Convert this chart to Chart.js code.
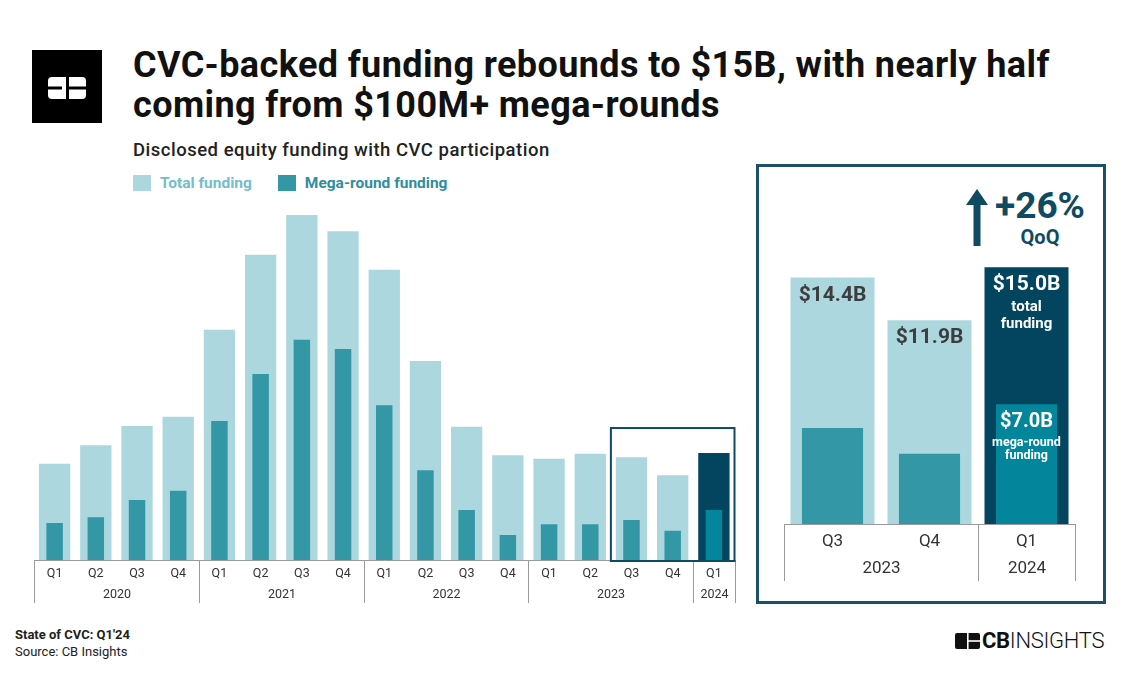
<!DOCTYPE html>
<html>
<head>
<meta charset="utf-8">
<script src="https://cdn.jsdelivr.net/npm/chart.js@4.4.1/dist/chart.umd.min.js"></script>
<style>
  body { margin:0; width:1135px; height:678px; background:#fff; position:relative; overflow:hidden; font-family:Roboto, "Noto Sans", sans-serif; }
  .abs { position:absolute; }
  #title { left:133px; top:45px; font-weight:700; font-size:36px; letter-spacing:0.4px; line-height:40px; color:#111; white-space:nowrap; }
  #sub { left:133px; top:140px; font-weight:500; font-size:18.5px; letter-spacing:0.5px; line-height:20px; color:#222; white-space:nowrap; }
  #legend { left:133px; top:175px; font-weight:700; font-size:15.5px; line-height:16px; display:flex; align-items:center; }
  #legend span.sw { display:inline-block; width:18px; height:16px; margin-right:9px; }
  #legend .item { display:flex; align-items:center; margin-right:26px; }
  #foot { left:15px; top:626px; font-size:13px; line-height:17px; color:#222; }
  #inset { left:756px; top:164px; width:344px; height:434px; border:3px solid #1b5068; }
  #qoq { left:990px; top:186px; width:100px; color:#0f4a63; font-weight:700; text-align:center; }
</style>
</head>
<body>
<svg class="abs" style="left:32px;top:50px" width="70" height="73" viewBox="0 0 70 73">
  <rect width="70" height="73" fill="#000"/>
  <rect x="16" y="27" width="38" height="22" rx="4" fill="#fff"/>
  <rect x="34" y="27" width="3" height="22" fill="#000"/>
  <rect x="37" y="36.5" width="17" height="3" fill="#000"/>
  <rect x="16" y="36.5" width="14" height="3" fill="#000"/>
</svg>
<div id="title" class="abs">CVC-backed funding rebounds to $15B, with nearly half<br>coming from $100M+ mega-rounds</div>
<div id="sub" class="abs">Disclosed equity funding with CVC participation</div>
<div id="legend" class="abs">
  <div class="item"><span class="sw" style="background:#acd7df"></span><span style="color:#74bdca">Total funding</span></div>
  <div class="item"><span class="sw" style="background:#3497a6"></span><span style="color:#2f8e9e">Mega-round funding</span></div>
</div>

<canvas id="main" class="abs" style="left:0;top:190px" width="750" height="420"></canvas>

<div id="inset" class="abs"></div>
<svg class="abs" style="left:965px;top:189px" width="24" height="58" viewBox="0 0 24 58">
  <polygon points="12,0 23,16 15.5,16 15.5,57 8.5,57 8.5,16 1,16" fill="#0f4a63"/>
</svg>
<div id="qoq" class="abs"><div style="font-size:37px;line-height:40px">+26%</div><div style="font-size:20px;line-height:22px">QoQ</div></div>
<canvas id="zoom" class="abs" style="left:760px;top:240px" width="340" height="360"></canvas>

<div id="foot" class="abs"><b>State of CVC: Q1'24</b><br>Source: CB Insights</div>
<svg class="abs" style="left:955px;top:633px" width="25" height="16" viewBox="0 0 25 16">
  <rect width="25" height="16" rx="2" fill="#111"/>
  <rect x="12" y="0" width="1.6" height="16" fill="#fff"/>
  <rect x="13" y="7.2" width="12" height="1.6" fill="#fff"/>
</svg>
<div class="abs" style="left:982px;top:628px;font-size:22px;line-height:26px;color:#111;letter-spacing:-0.3px"><b>CB</b><span style="font-weight:300">INSIGHTS</span></div>

<script>
// === DADOS ===
const quarters = ['Q1','Q2','Q3','Q4','Q1','Q2','Q3','Q4','Q1','Q2','Q3','Q4','Q1','Q2','Q3','Q4','Q1'];
const years = ['2020','2021','2022','2023','2024'];
const yearSizes = [4, 4, 4, 4, 1];
const totalFunding = [13.5, 16.1, 18.8, 20.1, 32.3, 42.8, 48.4, 46.1, 40.7, 27.9, 18.7, 14.7, 14.2, 14.9, 14.4, 11.9, 15.0];
const megaFunding  = [5.2, 6.0, 8.4, 9.7, 19.5, 26.1, 30.9, 29.6, 21.7, 12.6, 7.0, 3.5, 5.0, 5.0, 5.6, 4.1, 7.0];

// zoom (ultimos 3 trimestres)
const zoomQuarters = quarters.slice(-3);
const zoomYears = ['2023', '2024'];
const zoomYearSizes = [2, 1];
const zoomTotal = totalFunding.slice(-3);
const zoomMega = megaFunding.slice(-3);

const LIGHT = '#acd7df', MEGA = '#3497a6', NAVY = '#03445f', MEGA_HL = '#03869b';

// cores por barra: a ultima (Q1'24) em destaque
const totalColors = totalFunding.map((v, i) => i === totalFunding.length - 1 ? NAVY : LIGHT);
const megaColors = megaFunding.map((v, i) => i === megaFunding.length - 1 ? MEGA_HL : MEGA);

// === EIXO AGRUPADO (trimestres + anos) ===
const groupAxis = {
  id: 'groupAxis',
  afterDatasetsDraw(chart, args, o) {
    const { ctx, chartArea: a, scales: { x } } = chart;
    const n = chart.data.labels.length;
    const step = n > 1 ? x.getPixelForValue(1) - x.getPixelForValue(0) : a.width;
    ctx.save();
    ctx.strokeStyle = '#9a9a9a';
    ctx.lineWidth = 1;
    ctx.beginPath();
    ctx.moveTo(a.left, a.bottom + 0.5);
    ctx.lineTo(a.right, a.bottom + 0.5);
    ctx.stroke();

    ctx.fillStyle = '#333';
    ctx.textAlign = 'center';
    ctx.textBaseline = 'middle';
    ctx.font = o.font;
    chart.data.labels.forEach((q, i) => ctx.fillText(q, x.getPixelForValue(i), a.bottom + o.qY));

    let idx = 0;
    o.years.forEach((yr, g) => {
      const size = o.sizes[g];
      const left = Math.round(x.getPixelForValue(idx) - step / 2) + 0.5;
      const right = Math.round(x.getPixelForValue(idx + size - 1) + step / 2) + 0.5;
      ctx.beginPath();
      ctx.moveTo(left, a.bottom);
      ctx.lineTo(left, a.bottom + o.depth);
      if (g === o.years.length - 1) {
        ctx.moveTo(right, a.bottom);
        ctx.lineTo(right, a.bottom + o.depth);
      }
      ctx.stroke();
      ctx.fillText(yr, (left + right) / 2, a.bottom + o.yearY);
      idx += size;
    });

    // caixa de destaque
    if (o.box) {
      const bx = x.getPixelForValue(o.box.from) - step / 2;
      const ex = x.getPixelForValue(n - 1) + step / 2;
      const top = chart.scales.y.getPixelForValue(Math.max(...totalFunding.slice(o.box.from))) - 25;
      ctx.strokeStyle = '#0f4a63';
      ctx.lineWidth = 2;
      ctx.strokeRect(bx, top, ex - bx, a.bottom - top + 1);
    }
    ctx.restore();
  }
};

// === ROTULOS DO ZOOM ===
const zoomLabels = {
  id: 'zoomLabels',
  afterDatasetsDraw(chart) {
    const ctx = chart.ctx;
    const tot = chart.getDatasetMeta(1).data;
    const meg = chart.getDatasetMeta(0).data;
    ctx.save();
    ctx.textAlign = 'center';
    ctx.textBaseline = 'middle';
    tot.forEach((bar, i) => {
      const last = i === tot.length - 1;
      ctx.fillStyle = last ? '#fff' : '#3d3d3d';
      ctx.font = '700 21px Roboto';
      ctx.fillText('$' + zoomTotal[i].toFixed(1) + 'B', bar.x, bar.y + 18);
      if (last) {
        ctx.font = '700 15px Roboto';
        ctx.fillText('total', bar.x, bar.y + 40);
        ctx.fillText('funding', bar.x, bar.y + 57);
        const m = meg[i];
        ctx.font = '700 20px Roboto';
        ctx.fillText('$' + zoomMega[i].toFixed(1) + 'B', m.x, m.y + 18);
        ctx.font = '700 12.5px Roboto';
        ctx.fillText('mega-round', m.x, m.y + 39);
        ctx.fillText('funding', m.x, m.y + 52);
      }
    });
    ctx.restore();
  }
};

function barChart(el, labels, total, mega, tColors, mColors, yMax, pad, barPct, megaPct, axisOpts, extra) {
  return new Chart(el, {
    type: 'bar',
    data: {
      labels: labels,
      datasets: [
        { label: 'Mega-round funding', data: mega, backgroundColor: mColors, grouped: false, order: 1,
          categoryPercentage: 1, barPercentage: megaPct },
        { label: 'Total funding', data: total, backgroundColor: tColors, grouped: false, order: 2,
          categoryPercentage: 1, barPercentage: barPct }
      ]
    },
    options: {
      responsive: false,
      animation: false,
      layout: { padding: pad },
      scales: {
        x: { display: false },
        y: { display: false, min: 0, max: yMax }
      },
      plugins: {
        legend: { display: false },
        tooltip: { enabled: false },
        groupAxis: axisOpts
      }
    },
    plugins: [groupAxis].concat(extra)
  });
}

barChart(document.getElementById('main'), quarters, totalFunding, megaFunding, totalColors, megaColors,
  50, { left: 34, right: 15.5, top: 13.5, bottom: 50 }, 0.76, 0.40,
  { font: '12.5px Roboto', qY: 14, yearY: 35, depth: 43, years: years, sizes: yearSizes, box: { from: 14 } }, []);

barChart(document.getElementById('zoom'), zoomQuarters, zoomTotal, zoomMega,
  zoomTotal.map((v, i) => i === 2 ? NAVY : LIGHT), zoomMega.map((v, i) => i === 2 ? MEGA_HL : MEGA),
  16, { left: 24, right: 25, top: 10, bottom: 76 }, 0.866, 0.63,
  { font: '17px Roboto', qY: 18, yearY: 45, depth: 57, years: zoomYears, sizes: zoomYearSizes }, [zoomLabels]);
</script>
</body>
</html>
